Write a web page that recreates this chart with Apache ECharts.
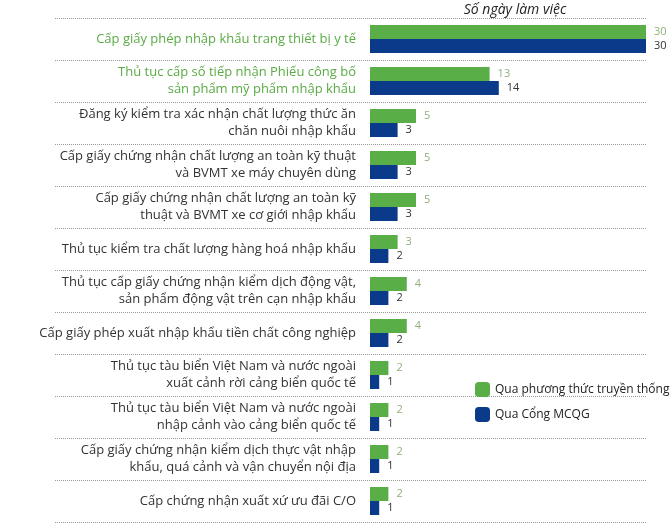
<!DOCTYPE html><html><head><meta charset="utf-8"><script src="https://cdn.jsdelivr.net/npm/echarts@6/dist/echarts.min.js"></script></head><body style="margin:0"><div id="c" style="width:670px;height:524px"></div><script>
const categories=["Cấp giấy phép nhập khẩu trang thiết bị y tế","Thủ tục cấp số tiếp nhận Phiếu công bố\nsản phẩm mỹ phẩm nhập khẩu","Đăng ký kiểm tra xác nhận chất lượng thức ăn\nchăn nuôi nhập khẩu","Cấp giấy chứng nhận chất lượng an toàn kỹ thuật\nvà BVMT xe máy chuyên dùng","Cấp giấy chứng nhận chất lượng an toàn kỹ\nthuật và BVMT xe cơ giới nhập khẩu","Thủ tục kiểm tra chất lượng hàng hoá nhập khẩu","Thủ tục cấp giấy chứng nhận kiểm dịch động vật,\nsản phẩm động vật trên cạn nhập khẩu","Cấp giấy phép xuất nhập khẩu tiền chất công nghiệp","Thủ tục tàu biển Việt Nam và nước ngoài\nxuất cảnh rời cảng biển quốc tế","Thủ tục tàu biển Việt Nam và nước ngoài\nnhập cảnh vào cảng biển quốc tế","Cấp giấy chứng nhận kiểm dịch thực vật nhập\nkhẩu, quá cảnh và vận chuyển nội địa","Cấp chứng nhận xuất xứ ưu đãi C/O"];
const traditional=[30,13,5,5,5,3,4,4,2,2,2,2];
const portal=[30,14,3,3,3,2,2,2,1,1,1,1];
const c=echarts.init(document.getElementById('c'));
const F="'Open Sans', sans-serif";
c.setOption({
title:{text:"Số ngày làm việc",left:510,top:-2,textAlign:'center',textStyle:{fontFamily:F,fontSize:14,fontStyle:'italic',fontWeight:'normal',color:'#222'}},
legend:{orient:'vertical',left:470,top:377,itemWidth:15,itemHeight:15,itemGap:10,textStyle:{fontFamily:F,fontSize:12,color:'#222'},data:['Qua phương thức truyền thống','Qua Cổng MCQG']},
grid:[{left:370,right:24,top:18,bottom:2},{left:55,right:24,top:18,bottom:2}],
xAxis:[{gridIndex:0,type:'value',min:0,max:30,show:false},{gridIndex:1,type:'value',show:false}],
yAxis:[{gridIndex:0,type:'category',inverse:true,data:categories,axisLine:{show:false},axisTick:{show:false},
axisLabel:{margin:14,fontFamily:F,fontSize:13,lineHeight:17,color:'#333',formatter:(v,i)=>i<2?'{g|'+v.split('\n').join('}\n{g|')+'}':v,rich:{g:{color:'#5aab44',fontFamily:F,fontSize:13,lineHeight:17}}}},
{gridIndex:1,type:'category',inverse:true,data:categories,axisLine:{show:false},axisTick:{show:false},axisLabel:{show:false},
splitLine:{show:true,interval:0,lineStyle:{type:'dotted',color:'#999',width:1}}}],
series:[{name:'Qua phương thức truyền thống',type:'bar',data:traditional,barWidth:14,barGap:'0%',itemStyle:{color:'#5aae48'},
label:{show:true,position:'right',distance:8,fontFamily:F,fontSize:11,color:'#8fb07a'}},
{name:'Qua Cổng MCQG',type:'bar',data:portal,barWidth:14,itemStyle:{color:'#0b3a8a'},
label:{show:true,position:'right',distance:8,fontFamily:F,fontSize:11,color:'#333'}}]
});
</script></body></html>
